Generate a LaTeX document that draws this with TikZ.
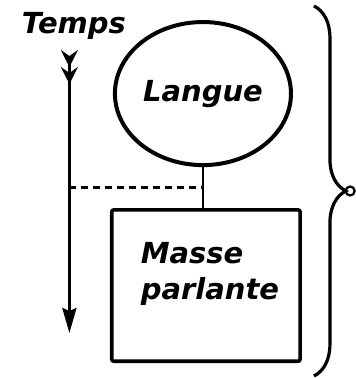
\documentclass[tikz,border=0pt]{standalone}
\usepackage{fontspec}
\setmainfont{DejaVu Sans}
\usetikzlibrary{shapes.geometric,arrows.meta,positioning,calc,decorations.pathreplacing}

\begin{document}
\begin{tikzpicture}[
    lbl/.style={font=\fontsize{29}{36}\selectfont\bfseries\itshape},
    langnode/.style={ellipse, draw, line width=4pt,
        minimum width=6.19cm, minimum height=5.03cm, inner sep=0pt, lbl},
    massebox/.style={rectangle, draw, line width=3.6pt,
        minimum width=6.62cm, minimum height=5.32cm, rounded corners=2pt},
    timearr/.style={line width=3pt,
        {Stealth[reversed,length=17pt,width=17pt,inset=6pt]Stealth[reversed,length=17pt,width=17pt,inset=6pt]}-{Stealth[length=25pt,width=14pt,inset=3pt]}},
    link/.style={line width=2.8pt},
    dashlink/.style={line width=3pt, dash pattern=on 7pt off 5pt},
    bracelink/.style={line width=3.2pt, decorate, decoration={brace, amplitude=1.12cm}}
]
    \useasboundingbox (0,0) rectangle (12.51,13.29);

    \node[langnode] (langue) at (7.135,10.00) {Langue};
    \node[massebox] (masse) at (7.24,3.25) {};
    \node[lbl, align=left, inner sep=0pt] (massetxt) at (7.38,3.67) {Masse\\parlante};

    % axe du temps
    \node[lbl, inner sep=0pt] (temps) at (2.60,12.37) {Temps};
    \coordinate (ttop) at (2.44,11.53);
    \coordinate (tbot) at (2.44,1.58);
    \draw[timearr] (ttop) -- (tbot);

    \draw[link] (langue.south) -- (langue.south |- masse.north);
    \coordinate (djoin) at (langue.south |- 0,6.70);
    \draw[dashlink] (ttop |- djoin) -- (djoin);

    % accolade
    \coordinate (btop) at (11.04,13.08);
    \coordinate (bbot) at (11.04,0.07);
    \draw[bracelink] (btop) -- (bbot);
    \node[circle, draw, line width=2.2pt, minimum size=9pt, inner sep=0pt] (loop) at (12.31,6.575) {};
\end{tikzpicture}
\end{document}
